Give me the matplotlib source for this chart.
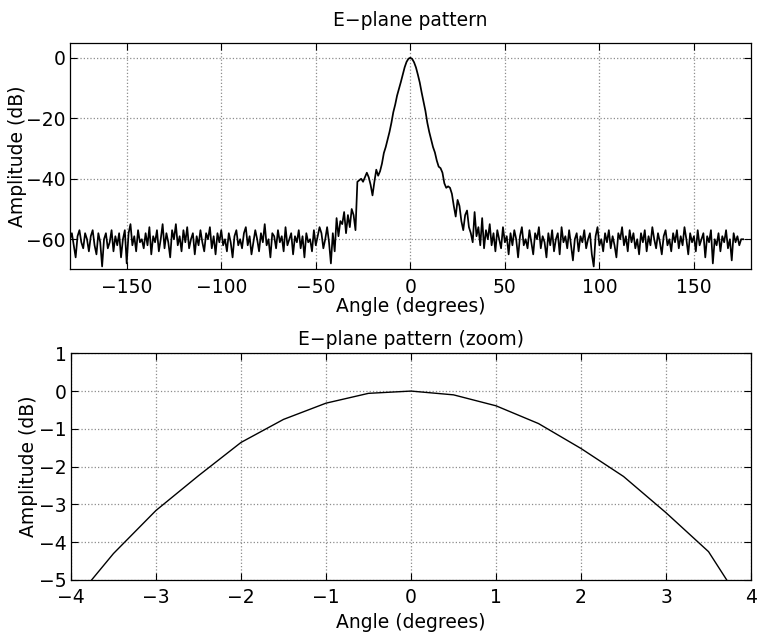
import numpy as np
import matplotlib
matplotlib.use("Agg")
import matplotlib.pyplot as plt

plt.rcParams['font.family'] = ['DejaVu Sans']
plt.rcParams['axes.unicode_minus'] = True

# ---- Full pattern data (1 degree steps) ----
left_start = -180
left_floor = [
    -60, -58, -62, -66, -59, -57, -61, -63, -58, -60,
    -64, -59, -57, -62, -65, -58, -61, -69, -60, -58,
    -63, -61, -57, -64, -59, -62, -58, -66, -60, -57,
    -68, -58, -55, -62, -59, -64, -57, -61, -60, -63,
    -58, -62, -56, -65, -59, -61, -57, -64, -60, -55,
    -63, -58, -61, -66, -57, -60, -55, -62, -59, -64,
    -57, -61, -56, -63, -60, -58, -65, -59, -62, -57,
    -61, -64, -58, -60, -56, -63, -59, -65, -58, -61,
    -57, -62, -60, -64, -58, -61, -66, -59, -57, -62,
    -60, -63, -58, -56, -62, -59, -65, -61, -57, -60,
    -64, -58, -61, -55, -62, -60, -66, -58, -59, -63,
    -57, -61, -59, -64, -56, -62, -60, -58, -65, -59,
    -61, -57, -63, -59, -66, -58, -61, -60, -64, -57,
    -62, -59, -56, -58, -63, -60, -56, -61, -68, -58,
]
beam = [
    -64, -53, -59, -54, -55, -51, -58, -52, -56, -50, -52,
    -57, -41, -40.5, -40, -41, -39.5, -38, -39.5, -42, -45.5,
    -41, -37, -39, -37.5, -35, -31.5, -29.5, -27, -24.5, -21.5,
    -18, -15.5, -12.5, -10.3, -8, -5.6, -3.16, -1.36, -0.32,
    0,
    -0.39, -1.52, -3.22, -5.6, -8.2, -11.5, -14.5, -17.6, -21.5, -24.5,
    -27, -29.5, -31.3, -34, -36, -36.5, -38, -41.5, -43, -42.5,
    -43, -45, -49, -52.5, -47, -49, -54, -57, -52, -50.5, -56,
]
right_floor = [
    -58, -61, -51, -59, -56, -62, -53, -63, -57, -60,
    -55, -62, -58, -64, -57, -60, -63, -56, -61, -59,
    -65, -58, -62, -57, -60, -66, -59, -56, -62, -60,
    -63, -57, -61, -65, -58, -60, -56, -63, -59, -61,
    -66, -58, -62, -57, -64, -60, -58, -65, -56, -61,
    -59, -63, -57, -62, -67, -60, -58, -64, -59, -61,
    -57, -63, -60, -58, -65, -69, -59, -56, -62, -60,
    -64, -58, -61, -57, -63, -59, -62, -66, -58, -60,
    -56, -62, -59, -64, -57, -61, -58, -63, -60, -65,
    -58, -61, -57, -64, -59, -62, -56, -60, -63, -58,
    -61, -65, -59, -57, -62, -60, -64, -58, -61, -57,
    -63, -59, -62, -56, -60, -65, -58, -61, -59, -64,
    -57, -62, -60, -58, -66, -59, -61, -57, -68, -60,
    -62, -58, -64, -59, -61, -57, -63, -60, -67, -58,
    -61, -59, -62, -60, -60,
]
amp_full = np.array(left_floor + beam + right_floor, dtype=float)
ang_full = left_start + np.arange(len(amp_full))

# ---- Zoomed data (0.5 degree steps) ----
ang_zoom = [-4, -3.5, -3, -2.5, -2, -1.5, -1, -0.5, 0, 0.5, 1, 1.5, 2, 2.5, 3, 3.5, 4]
amp_zoom = [-5.66, -4.3, -3.16, -2.24, -1.36, -0.75, -0.32, -0.06, 0,
            -0.1, -0.39, -0.86, -1.52, -2.26, -3.22, -4.25, -6.0]

full_xticks = [-150, -100, -50, 0, 50, 100, 150]
full_yticks = [-60, -40, -20, 0]
zoom_xticks = [-4, -3, -2, -1, 0, 1, 2, 3, 4]
zoom_yticks = [-5, -4, -3, -2, -1, 0, 1]

fig = plt.figure(figsize=(7.59, 6.32), dpi=100)
ax1 = fig.add_axes([0.0922, 0.5736, 0.8968, 0.3589])
ax2 = fig.add_axes([0.0935, 0.0823, 0.8960, 0.3587])

FS = 13.5

def style(ax):
    ax.tick_params(direction='in', top=True, right=True, length=5,
                   labelsize=FS, width=0.8)
    ax.tick_params(axis='x', pad=6)
    ax.tick_params(axis='y', pad=3)
    ax.grid(True, linestyle=':', color='0.55', linewidth=0.9)
    for s in ax.spines.values():
        s.set_linewidth(0.9)

ax1.plot(ang_full, amp_full, color='black', linewidth=1.25)
ax1.set_xlim(-180, 180)
ax1.set_ylim(-70, 5)
ax1.set_xticks(full_xticks)
ax1.set_yticks(full_yticks)
ax1.set_title('E\u2212plane pattern', fontsize=FS, pad=12)
ax1.set_xlabel('Angle (degrees)', fontsize=FS, labelpad=0)
ax1.set_ylabel('Amplitude (dB)', fontsize=FS)
ax1.yaxis.set_label_coords(-0.063, 0.5)
style(ax1)

ax2.plot(ang_zoom, amp_zoom, color='black', linewidth=1.0)
ax2.set_xlim(-4, 4)
ax2.set_ylim(-5, 1)
ax2.set_xticks(zoom_xticks)
ax2.set_yticks(zoom_yticks)
ax2.set_title('E\u2212plane pattern (zoom)', fontsize=FS, pad=6)
ax2.set_xlabel('Angle (degrees)', fontsize=FS, labelpad=4)
ax2.set_ylabel('Amplitude (dB)', fontsize=FS)
ax2.yaxis.set_label_coords(-0.0485, 0.5)
style(ax2)

fig.savefig('out.png', dpi=100)
